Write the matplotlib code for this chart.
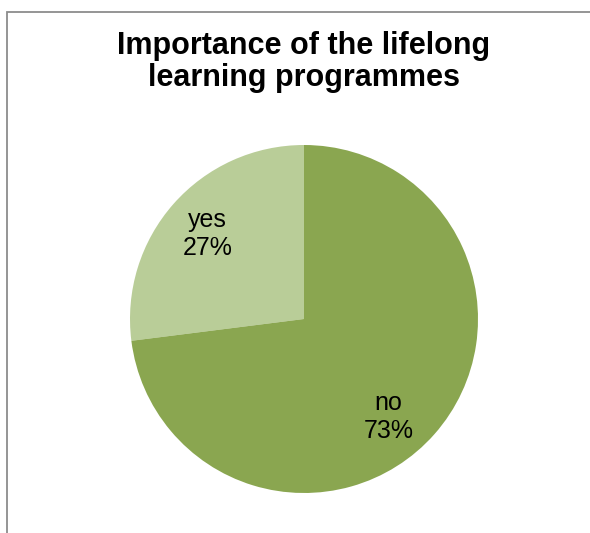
import numpy as np
import matplotlib.pyplot as plt

plt.rcParams['font.family'] = ['Liberation Sans', 'DejaVu Sans']

answers = ['yes', 'no']
shares = [27, 73]
colors = ['#B9CD98', '#8AA650']

W, H = 590, 533
fig = plt.figure(figsize=(W / 100, H / 100), dpi=100)
ax = fig.add_axes([0, 0, 1, 1])

# pie in pixel-like coordinates (y up)
cx, cy, r = 304, H - 319, 174
wedges, texts, autotexts = ax.pie(
    shares, colors=colors, startangle=90, counterclock=True,
    center=(cx, cy), radius=r, pctdistance=0.74,
    autopct=lambda p: '', wedgeprops=dict(linewidth=0))

# category name + percent inside each slice
for name, val, t in zip(answers, shares, autotexts):
    t.set_text(f'{name}\n{val}%')
    t.set_fontsize(18)
    t.set_linespacing(1.2)
    t.set_ha('center')
    t.set_va('center')
# excel nudges the big slice label toward the bottom
x, y = autotexts[1].get_position()
autotexts[1].set_position((x - 12, y - 13))

ax.set_xlim(0, W)
ax.set_ylim(0, H)
ax.set_aspect('equal')
ax.axis('off')

# chart area border (clipped at right/bottom)
ax.plot([7, 7, W + 5], [-5, H - 12, H - 12], color='#8C8C8C', lw=1.3,
        solid_joinstyle='miter')

fig.text(304 / W, 1 - 31 / H, 'Importance of the lifelong\nlearning programmes',
         ha='center', va='top', fontsize=22, fontweight='bold', linespacing=1.07)

fig.savefig('out.png', dpi=100)
